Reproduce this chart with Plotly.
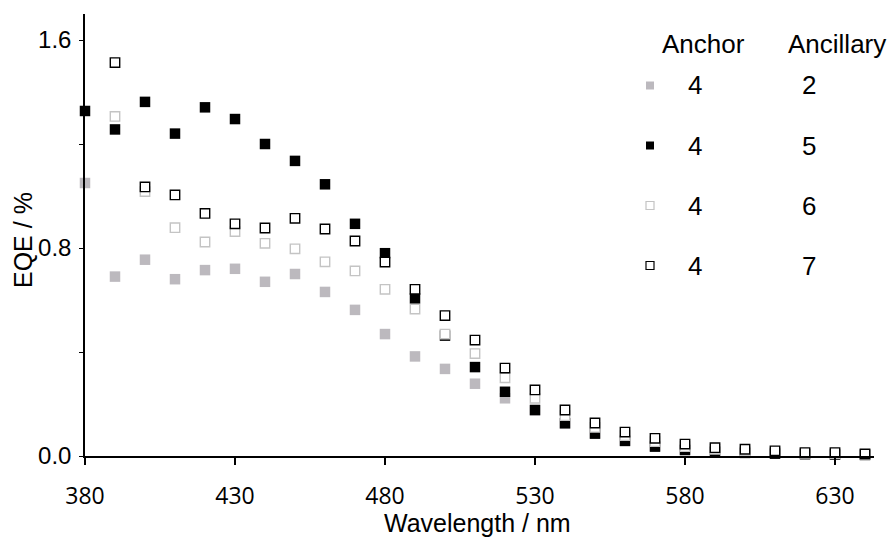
import plotly.graph_objects as go

wavelength = [380, 390, 400, 410, 420, 430, 440, 450, 460, 470, 480, 490, 500,
              510, 520, 530, 540, 550, 560, 570, 580, 590, 600, 610, 620, 630, 640]
wavelength_from390 = wavelength[1:]

eqe_4_2 = [1.05, 0.69, 0.755, 0.68, 0.715, 0.72, 0.67, 0.70, 0.631, 0.562, 0.469, 0.383,
           0.335, 0.278, 0.222, 0.175, 0.125, 0.088, 0.060, 0.040, 0.025, 0.018, 0.014,
           0.010, 0.008, 0.006, 0.005]
eqe_4_5 = [1.327, 1.256, 1.362, 1.24, 1.341, 1.296, 1.20, 1.135, 1.045, 0.893, 0.78, 0.606,
           0.463, 0.342, 0.247, 0.177, 0.126, 0.086, 0.058, 0.036, 0.023, 0.016, 0.012,
           0.009, 0.007, 0.005, 0.004]
eqe_4_6 = [1.306, 1.017, 0.878, 0.823, 0.863, 0.818, 0.797, 0.747, 0.712, 0.641, 0.565,
           0.469, 0.394, 0.301, 0.222, 0.155, 0.110, 0.078, 0.055, 0.036, 0.026, 0.020,
           0.015, 0.010, 0.008, 0.006]
eqe_4_7 = [1.513, 1.035, 1.004, 0.933, 0.893, 0.877, 0.914, 0.873, 0.827, 0.746, 0.641,
           0.54, 0.446, 0.338, 0.254, 0.177, 0.127, 0.092, 0.068, 0.046, 0.032, 0.026,
           0.020, 0.013, 0.013, 0.008]

legend_anchor = ["4", "4", "4", "4"]
legend_ancillary = ["2", "5", "6", "7"]

x_ticks = [380, 430, 480, 530, 580, 630]
y_ticks = [0.0, 0.8, 1.6]
y_ticktext = ["0.0", "0.8", "1.6"]

GRAY = "#bcb9be"
LIGHT = "#c4c4c4"
BLACK = "#000000"

fig = go.Figure()
fig.add_trace(go.Scatter(x=wavelength, y=eqe_4_2, mode="markers", cliponaxis=False,
                         marker=dict(symbol="square", size=10.5, color=GRAY, line=dict(width=0))))
fig.add_trace(go.Scatter(x=wavelength, y=eqe_4_5, mode="markers", cliponaxis=False,
                         marker=dict(symbol="square", size=10.5, color=BLACK, line=dict(width=0))))
fig.add_trace(go.Scatter(x=wavelength_from390, y=eqe_4_6, mode="markers", cliponaxis=False,
                         marker=dict(symbol="square", size=9.4, color="white", line=dict(width=1.4, color=LIGHT))))
fig.add_trace(go.Scatter(x=wavelength_from390, y=eqe_4_7, mode="markers", cliponaxis=False,
                         marker=dict(symbol="square", size=9.4, color="white", line=dict(width=1.4, color=BLACK))))

FONT = "Liberation Sans, Arial, sans-serif"
XFONT = "Open Sans, sans-serif"

W, H = 891, 545
L, R, T, B = 85, 17, 14, 89
pw, ph = W - L - R, H - T - B


def px_to_paper(x, y):
    return (x - L) / pw, (H - B - y) / ph


annotations = []
ax, ay = px_to_paper(477, 523)
annotations.append(dict(text="Wavelength / nm", x=ax, y=ay, xref="paper", yref="paper",
                        showarrow=False, xanchor="center", yanchor="middle",
                        font=dict(family=FONT, size=25, color="black")))
ax, ay = px_to_paper(23, 240)
annotations.append(dict(text="EQE / %", x=ax, y=ay, xref="paper", yref="paper", textangle=-90,
                        showarrow=False, xanchor="center", yanchor="middle",
                        font=dict(family=FONT, size=25, color="black")))
for txt, cx in [("Anchor", 703.5), ("Ancillary", 836.5)]:
    ax, ay = px_to_paper(cx, 44)
    annotations.append(dict(text=txt, x=ax, y=ay, xref="paper", yref="paper", showarrow=False,
                            xanchor="center", yanchor="middle",
                            font=dict(family=FONT, size=26, color="black")))

row_y = [85.5, 145.5, 205.5, 265.5]
shapes = []
styles = [(GRAY, GRAY, 0), (BLACK, BLACK, 0), ("white", LIGHT, 1.2), ("white", BLACK, 1.2)]
for i, yy in enumerate(row_y):
    ax, ay = px_to_paper(695, yy)
    annotations.append(dict(text=legend_anchor[i], x=ax, y=ay, xref="paper", yref="paper",
                            showarrow=False, xanchor="center", yanchor="middle",
                            font=dict(family=FONT, size=26, color="black")))
    ax, ay = px_to_paper(808.5, yy)
    annotations.append(dict(text=legend_ancillary[i], x=ax, y=ay, xref="paper", yref="paper",
                            showarrow=False, xanchor="center", yanchor="middle",
                            font=dict(family=FONT, size=26, color="black")))
    mx, my = px_to_paper(650, yy)
    fill, line, lw = styles[i]
    shapes.append(dict(type="rect", xref="paper", yref="paper", xsizemode="pixel", ysizemode="pixel",
                       xanchor=mx, yanchor=my, x0=-4, x1=4, y0=-4, y1=4,
                       fillcolor=fill, line=dict(color=line, width=lw)))

fig.update_layout(
    width=W, height=H,
    margin=dict(l=L, r=R, t=T, b=B, pad=0),
    paper_bgcolor="white", plot_bgcolor="white",
    showlegend=False,
    annotations=annotations,
    shapes=shapes,
    xaxis=dict(range=[380, 643], tickvals=x_ticks, ticks="outside", ticklen=7, tickwidth=1.5,
               tickcolor="black", showline=True, linecolor="black", linewidth=1.5,
               showgrid=False, zeroline=False, ticklabelstandoff=12,
               tickfont=dict(family=XFONT, size=23, color="black")),
    yaxis=dict(range=[0, 1.70], tickvals=y_ticks, ticktext=y_ticktext, ticks="outside",
               ticklen=4, tickwidth=1.2, tickcolor="black", showline=True, linecolor="black",
               linewidth=1.5, showgrid=False, zeroline=False, ticklabelstandoff=3,
               minor=dict(tickvals=[0.4, 1.2], ticks="outside", ticklen=4, tickwidth=1.2,
                          tickcolor="black", showgrid=False),
               tickfont=dict(family=FONT, size=24, color="black")),
)

fig.write_html("out.html", config={"displayModeBar": False},
               post_script="document.body.style.margin='0';document.body.style.overflow='hidden';")
